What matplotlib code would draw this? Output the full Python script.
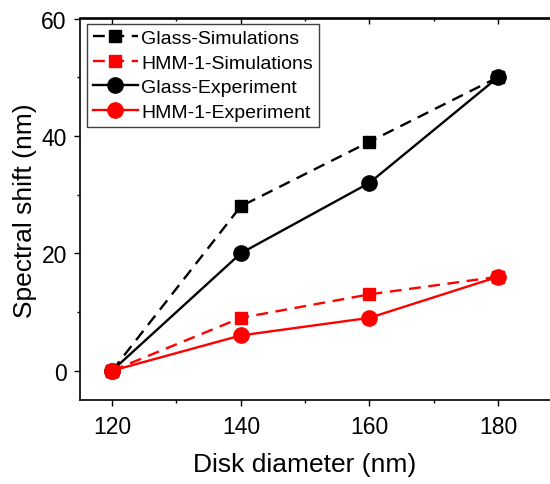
import matplotlib
matplotlib.use("Agg")
import matplotlib.pyplot as plt
from matplotlib.ticker import MultipleLocator

plt.rcParams['font.family'] = ['Liberation Sans', 'DejaVu Sans']

diameter = [120, 140, 160, 180]
glass_sim = [0, 28, 39, 50]
hmm_sim = [0, 9, 13, 16]
glass_exp = [0, 20, 32, 50]
hmm_exp = [0, 6, 9, 16]

W, H = 550, 485
fig = plt.figure(figsize=(5.5, 4.85), dpi=100)
ax = fig.add_axes([80/W, 84/H, 480/W, 381.5/H])

dash = (0, (5.0, 3.2))
lw = 1.7
ax.plot(diameter, glass_sim, color='black', linestyle=dash, linewidth=lw,
        marker='s', markersize=9, label='Glass-Simulations')
ax.plot(diameter, hmm_sim, color='red', linestyle=dash, linewidth=lw,
        marker='s', markersize=9, label='HMM-1-Simulations')
ax.plot(diameter, glass_exp, color='black', linestyle='-', linewidth=lw,
        marker='o', markersize=11, label='Glass-Experiment')
ax.plot(diameter, hmm_exp, color='red', linestyle='-', linewidth=lw,
        marker='o', markersize=11, label='HMM-1-Experiment')

ax.set_xlim(115, 115 + 480/6.433)
ax.set_ylim(-5, 60)
ax.set_xticks([120, 140, 160, 180])
ax.set_yticks([0, 20, 40, 60])
ax.xaxis.set_minor_locator(MultipleLocator(10))
ax.yaxis.set_minor_locator(MultipleLocator(10))
ax.tick_params(axis='both', which='major', direction='out', length=4.5, width=1,
               labelsize=16.5, top=False, right=False)
ax.tick_params(axis='both', which='minor', direction='out', length=2.5, width=1,
               top=False, right=False)
ax.tick_params(axis='x', which='major', pad=6)
ax.tick_params(axis='y', which='major', pad=5)

for spine in ax.spines.values():
    spine.set_linewidth(1.2)
    spine.set_color('black')
ax.spines['right'].set_visible(False)

# top axis ticks pointing inward
top = ax.secondary_xaxis('top')
top.set_xticks([120, 140, 160, 180])
top.xaxis.set_minor_locator(MultipleLocator(10))
top.tick_params(axis='x', which='major', direction='in', length=4.5, width=1,
                labeltop=False)
top.tick_params(axis='x', which='minor', direction='in', length=2.5, width=1)
top.set_xticklabels([])
top.spines['top'].set_linewidth(1.2)
top.spines['top'].set_color('black')
top.spines['top'].set_visible(True)

ax.set_xlabel('Disk diameter (nm)', fontsize=19)
ax.xaxis.set_label_coords((305 - 80) / 480, -(465 - 401) / 381.5)
ax.xaxis.label.set_verticalalignment('center')
ax.set_ylabel('Spectral shift (nm)', fontsize=19, labelpad=3)

leg = ax.legend(loc='upper left', bbox_to_anchor=(7/480, 1 - 5/381.5), fontsize=14,
                frameon=True, fancybox=False, edgecolor='#404040', framealpha=1,
                handlelength=2.3, handletextpad=0.2, borderpad=0.3,
                labelspacing=0.36, borderaxespad=0)
leg.get_frame().set_linewidth(1.0)

fig.savefig('out.png', dpi=100)
